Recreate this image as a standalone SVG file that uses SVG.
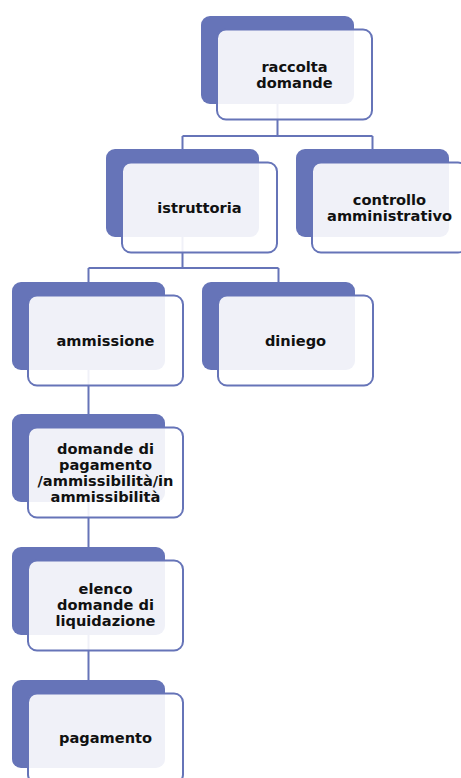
<svg xmlns="http://www.w3.org/2000/svg" width="461" height="778" viewBox="0 0 461 778">
<style>
.bg{fill:#6674b8}
.fg{fill:#ffffff;fill-opacity:0.9;stroke:#6674b8;stroke-width:2}
.t{font-family:"DejaVu Sans",Verdana,sans-serif;font-weight:bold;font-size:14.6px;fill:#111;text-anchor:middle}
.c{fill:none;stroke:#6674b8;stroke-width:2}
</style>
<rect width="461" height="778" fill="#ffffff"/>
<g id="connectors">
<path class="c" d="M277.5 104V136M182.5 136H372.5M182.5 136V149M372.5 136V149"/>
<path class="c" d="M182.5 237V268M88.5 268H278.5M88.5 268V282M278.5 268V282"/>
<path class="c" d="M88.5 370V414M88.5 502V547M88.5 635V680"/>
</g>
<g id="raccolta">
<rect class="bg" x="201" y="16" width="153" height="88" rx="9"/>
<rect class="fg" x="217" y="29.5" width="155" height="90" rx="9"/>
<text class="t" x="294.5" y="71.5">raccolta</text>
<text class="t" x="294.5" y="87.5">domande</text>
</g>
<g id="istruttoria">
<rect class="bg" x="106" y="149" width="153" height="88" rx="9"/>
<rect class="fg" x="122" y="162.5" width="155" height="90" rx="9"/>
<text class="t" x="199.5" y="212.5">istruttoria</text>
</g>
<g id="controllo">
<rect class="bg" x="296" y="149" width="153" height="88" rx="9"/>
<rect class="fg" x="312" y="162.5" width="155" height="90" rx="9"/>
<text class="t" x="389.5" y="204.5">controllo</text>
<text class="t" x="389.5" y="220.5">amministrativo</text>
</g>
<g id="ammissione">
<rect class="bg" x="12" y="282" width="153" height="88" rx="9"/>
<rect class="fg" x="28" y="295.5" width="155" height="90" rx="9"/>
<text class="t" x="105.5" y="345.5">ammissione</text>
</g>
<g id="diniego">
<rect class="bg" x="202" y="282" width="153" height="88" rx="9"/>
<rect class="fg" x="218" y="295.5" width="155" height="90" rx="9"/>
<text class="t" x="295.5" y="345.5">diniego</text>
</g>
<g id="domande">
<rect class="bg" x="12" y="414" width="153" height="88" rx="9"/>
<rect class="fg" x="28" y="427.5" width="155" height="90" rx="9"/>
<text class="t" x="105.5" y="453.5">domande di</text>
<text class="t" x="105.5" y="469.5">pagamento</text>
<text class="t" x="105.5" y="485.5">/ammissibilità/in</text>
<text class="t" x="105.5" y="501.5">ammissibilità</text>
</g>
<g id="elenco">
<rect class="bg" x="12" y="547" width="153" height="88" rx="9"/>
<rect class="fg" x="28" y="560.5" width="155" height="90" rx="9"/>
<text class="t" x="105.5" y="594">elenco</text>
<text class="t" x="105.5" y="610">domande di</text>
<text class="t" x="105.5" y="626">liquidazione</text>
</g>
<g id="pagamento">
<rect class="bg" x="12" y="680" width="153" height="88" rx="9"/>
<rect class="fg" x="28" y="693.5" width="155" height="90" rx="9"/>
<text class="t" x="105.5" y="743">pagamento</text>
</g>
</svg>
